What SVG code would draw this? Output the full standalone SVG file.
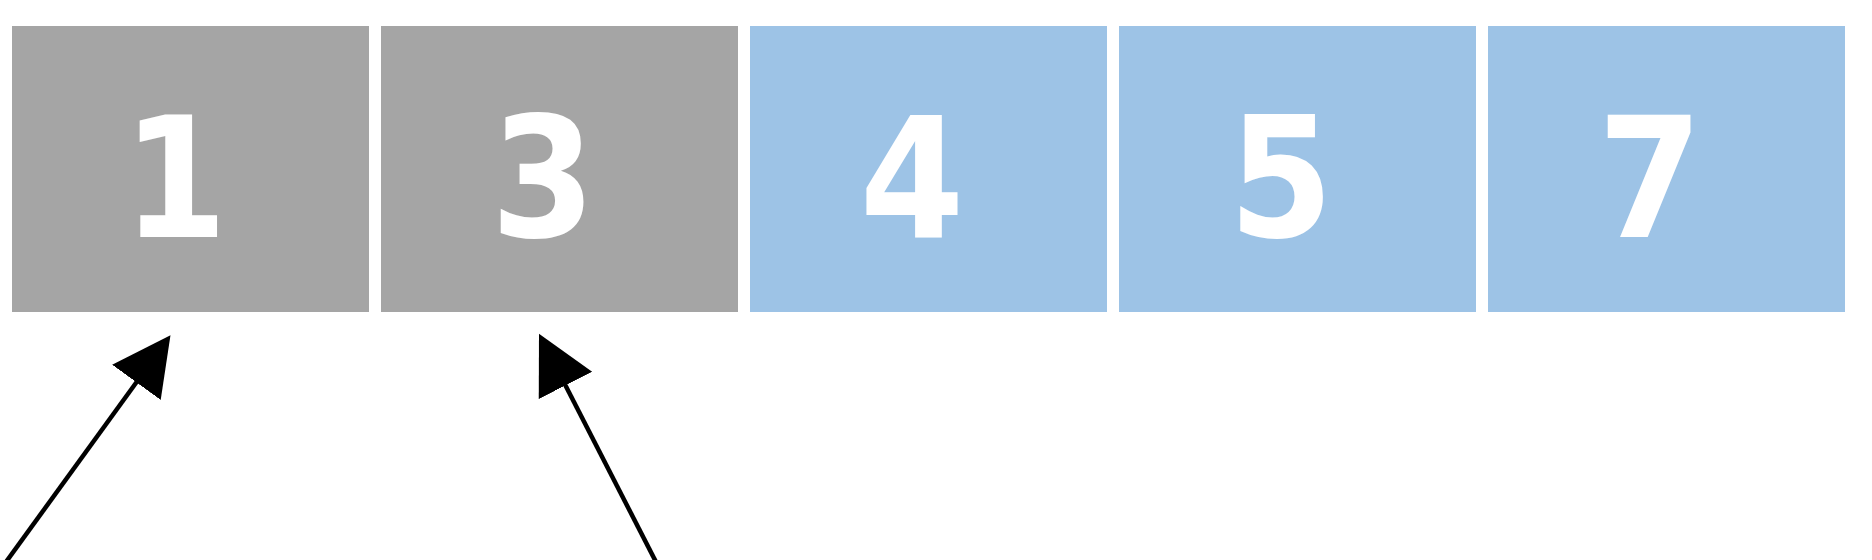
<svg xmlns="http://www.w3.org/2000/svg" width="1872" height="560" viewBox="0 0 1872 560">
<style>
.grey{fill:#a5a5a5}
.blue{fill:#9dc3e6}
.num{font-family:"DejaVu Sans Condensed","DejaVu Sans",sans-serif;font-stretch:condensed;font-weight:bold;font-size:167px;fill:#ffffff;text-anchor:middle}
.conn{stroke:#000000;stroke-width:4.5;fill:none}
</style>
<defs>
<marker id="arrow" markerUnits="userSpaceOnUse" markerWidth="60" markerHeight="62" viewBox="0 0 60 62" refX="1" refY="31" orient="auto">
<path d="M0,1 L58,31 L0,61 z" fill="#000000"/>
</marker>
</defs>
<rect width="1872" height="560" fill="#ffffff"/>
<g id="cell1"><rect class="grey" x="12" y="26" width="357" height="286"/><text class="num" x="175" y="237">1</text></g>
<g id="cell3"><rect class="grey" x="381" y="26" width="357" height="286"/><text class="num" x="543" y="237">3</text></g>
<g id="cell4"><rect class="blue" x="750" y="26" width="357" height="286"/><text class="num" x="912" y="237">4</text></g>
<g id="cell5"><rect class="blue" x="1119" y="26" width="357" height="286"/><text class="num" x="1281" y="237">5</text></g>
<g id="cell7"><rect class="blue" x="1488" y="26" width="357" height="286"/><text class="num" x="1650" y="237">7</text></g>
<g id="connectors">
<line class="conn" x1="6" y1="562" x2="137" y2="381.5" marker-end="url(#arrow)"/>
<line class="conn" x1="656" y1="562" x2="565" y2="384.5" marker-end="url(#arrow)"/>
</g>
</svg>
